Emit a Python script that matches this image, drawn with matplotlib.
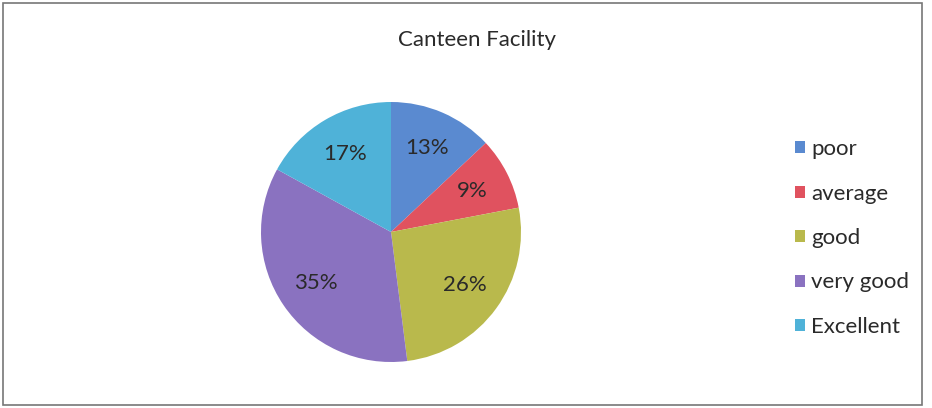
import matplotlib.pyplot as plt
from matplotlib.patches import Rectangle, Patch

labels = ['poor', 'average', 'good', 'very good', 'Excellent']
values = [13, 9, 26, 35, 17]
colors = ['#5a8ad0', '#e0525f', '#b9b94c', '#8a72c0', '#4fb2d8']

plt.rcParams['font.family'] = ['Lato', 'DejaVu Sans']

fig = plt.figure(figsize=(9.32, 4.08), dpi=100)

# pie centred at about (391, 232) px, radius 130 px
ax = fig.add_axes([261 / 932, 46 / 408, 260 / 932, 260 / 408])
wedges, texts, autotexts = ax.pie(values, colors=colors, startangle=90,
                                  counterclock=False, autopct='%1.0f%%',
                                  pctdistance=0.7,
                                  textprops={'fontsize': 16, 'color': '#2a2a2a'})
ax.set_xlim(-1, 1)
ax.set_ylim(-1, 1)
ax.set_aspect('equal')

fig.text(477 / 932, 1 - 40 / 408, 'Canteen Facility', ha='center', va='center',
         fontsize=16, color='#2a2a2a')

handles = [Patch(facecolor=c, edgecolor='none') for c in colors]
fig.legend(handles, labels, loc='center left', bbox_to_anchor=(779 / 932, 1 - 238 / 408),
           frameon=False, fontsize=16, labelspacing=1.1, handlelength=0.45,
           handleheight=0.45, handletextpad=0.3, labelcolor='#2a2a2a',
           borderpad=0.2)

fig.patches.append(Rectangle((3 / 932, 3 / 408), 919 / 932, 402 / 408, transform=fig.transFigure,
                             fill=False, edgecolor='#777777', linewidth=1.2))

fig.savefig('out.png', dpi=100)
